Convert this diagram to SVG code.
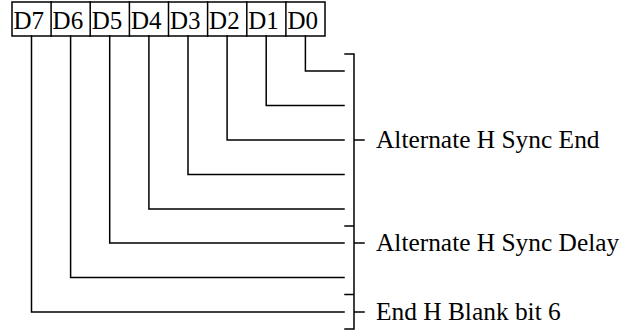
<svg xmlns="http://www.w3.org/2000/svg" width="637" height="331" viewBox="0 0 637 331">
<style>
.ln{fill:none;stroke:#000;stroke-width:1.5;stroke-linecap:square}
.t{font-family:"Liberation Serif","Times New Roman",serif;font-size:25px;fill:#000}
.lb{font-size:25.4px}
</style>
<rect width="637" height="331" fill="#fff"/>
<g id="register">
<rect class="ln" x="12" y="2" width="313" height="34"/>
<path class="ln" d="M51.1,2V36M90.2,2V36M129.4,2V36M168.5,2V36M207.6,2V36M246.8,2V36M285.9,2V36"/>
<text class="t" x="13.5" y="29">D7</text>
<text class="t" x="52.6" y="29">D6</text>
<text class="t" x="91.7" y="29">D5</text>
<text class="t" x="130.9" y="29">D4</text>
<text class="t" x="170" y="29">D3</text>
<text class="t" x="209.1" y="29">D2</text>
<text class="t" x="248.3" y="29">D1</text>
<text class="t" x="287.4" y="29">D0</text>
</g>
<g id="connectors">
<path class="ln" d="M305.4,36V71H344"/>
<path class="ln" d="M266.2,36V105.5H344"/>
<path class="ln" d="M227.1,36V140H344"/>
<path class="ln" d="M188,36V174.5H344"/>
<path class="ln" d="M148.9,36V209H344"/>
<path class="ln" d="M109.7,36V243H344"/>
<path class="ln" d="M70.6,36V277.5H344"/>
<path class="ln" d="M31.5,36V312H344"/>
</g>
<g id="bracket">
<path class="ln" d="M354,54V329M345,54H354M345,226H354M345,294.5H354M345,329H354M354,140H364M354,243H364M354,312H364"/>
</g>
<g id="label-sync-end"><text class="t lb" x="376" y="148">Alternate H Sync End</text></g>
<g id="label-sync-delay"><text class="t lb" x="376" y="251">Alternate H Sync Delay</text></g>
<g id="label-blank"><text class="t lb" x="376" y="320">End H Blank bit 6</text></g>
</svg>
